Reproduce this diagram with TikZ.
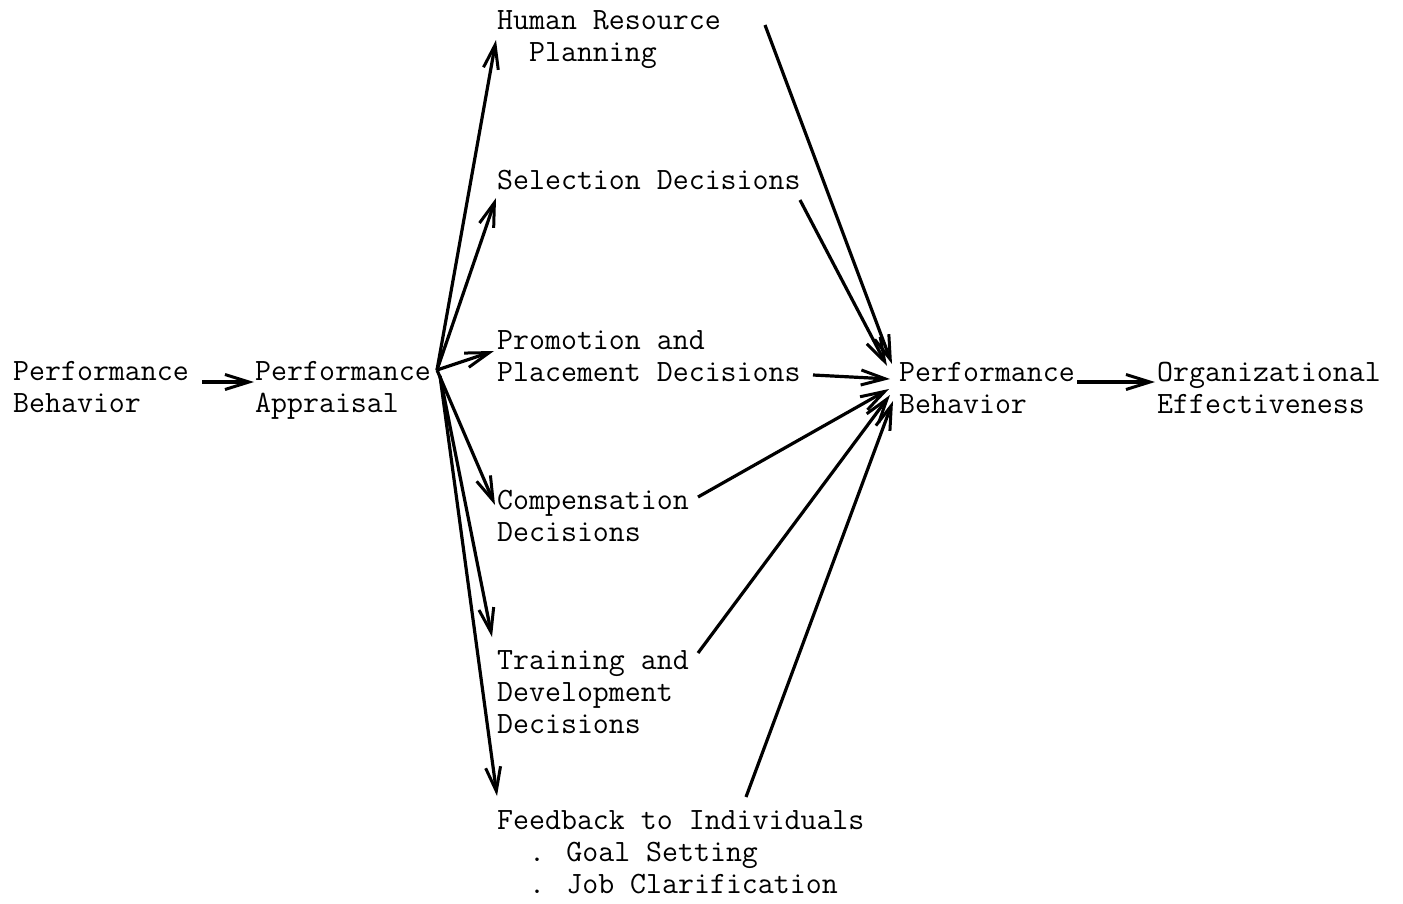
\documentclass[tikz,border=0pt]{standalone}
\usetikzlibrary{arrows.meta}
\begin{document}
\begin{tikzpicture}[x=1pt,y=-1pt,
  lbl/.style={anchor=base west,inner sep=0pt,align=left,font=\fontsize{31}{32}\selectfont\ttfamily},
  arr/.style={line width=3.2pt,-{Straight Barb[length=24pt,width=15pt,line width=3pt]}}]
\useasboundingbox (0,0) rectangle (1403,903);
% labels (anchor = baseline of the last line)
\node[lbl] (pb1) at (13,412) {Performance\\Behavior};
\node[lbl] (pa) at (255,412) {Performance\\Appraisal};
\node[lbl] (hrp) at (497,61) {Human Resource\\\ \ Planning};
\node[lbl] (sel) at (497,189) {Selection Decisions};
\node[lbl] (pro) at (497,381) {Promotion and\\Placement Decisions};
\node[lbl] (com) at (497,541) {Compensation\\Decisions};
\node[lbl] (trn) at (497,733) {Training and\\Development\\Decisions};
\node[lbl] (fb) at (497,893) {Feedback to Individuals\\\ \ . Goal Setting\\\ \ . Job Clarification};
\node[lbl] (pb2) at (899,413) {Performance\\Behavior};
\node[lbl] (oe) at (1157,413) {Organizational\\Effectiveness};
% connector end points
\coordinate (pbout) at (202,382);
\coordinate (pain) at (254,382);
\coordinate (fan) at (437,370);
\coordinate (fanlow) at (440,376);
\coordinate (hrpin) at (496,40);
\coordinate (selin) at (496,198);
\coordinate (proin) at (494,351);
\coordinate (comin) at (495,505);
\coordinate (trnin) at (492,637);
\coordinate (fbin) at (497,796);
\coordinate (hrpout) at (765,25);
\coordinate (selout) at (800,200);
\coordinate (proout) at (813,375);
\coordinate (comout) at (698,497);
\coordinate (trnout) at (698,653);
\coordinate (fbout) at (746,797);
\coordinate (pbhrp) at (892,364);
\coordinate (pbsel) at (887,366);
\coordinate (pbpro) at (890,379);
\coordinate (pbcom) at (889,389);
\coordinate (pbtrn) at (890,395);
\coordinate (pbfb) at (893,401);
\coordinate (pb2out) at (1077,382);
\coordinate (oein) at (1155,382);
% connectors
\draw[arr] (pbout) -- (pain);
\draw[arr] (fan) -- (hrpin);
\draw[arr] (fan) -- (selin);
\draw[arr] (fan) -- (proin);
\draw[arr] (fan) -- (comin);
\draw[arr] (fanlow) -- (trnin);
\draw[arr] (fanlow) -- (fbin);
\draw[arr] (hrpout) -- (pbhrp);
\draw[arr] (selout) -- (pbsel);
\draw[arr] (proout) -- (pbpro);
\draw[arr] (comout) -- (pbcom);
\draw[arr] (trnout) -- (pbtrn);
\draw[arr] (fbout) -- (pbfb);
\draw[arr] (pb2out) -- (oein);
\end{tikzpicture}
\end{document}
